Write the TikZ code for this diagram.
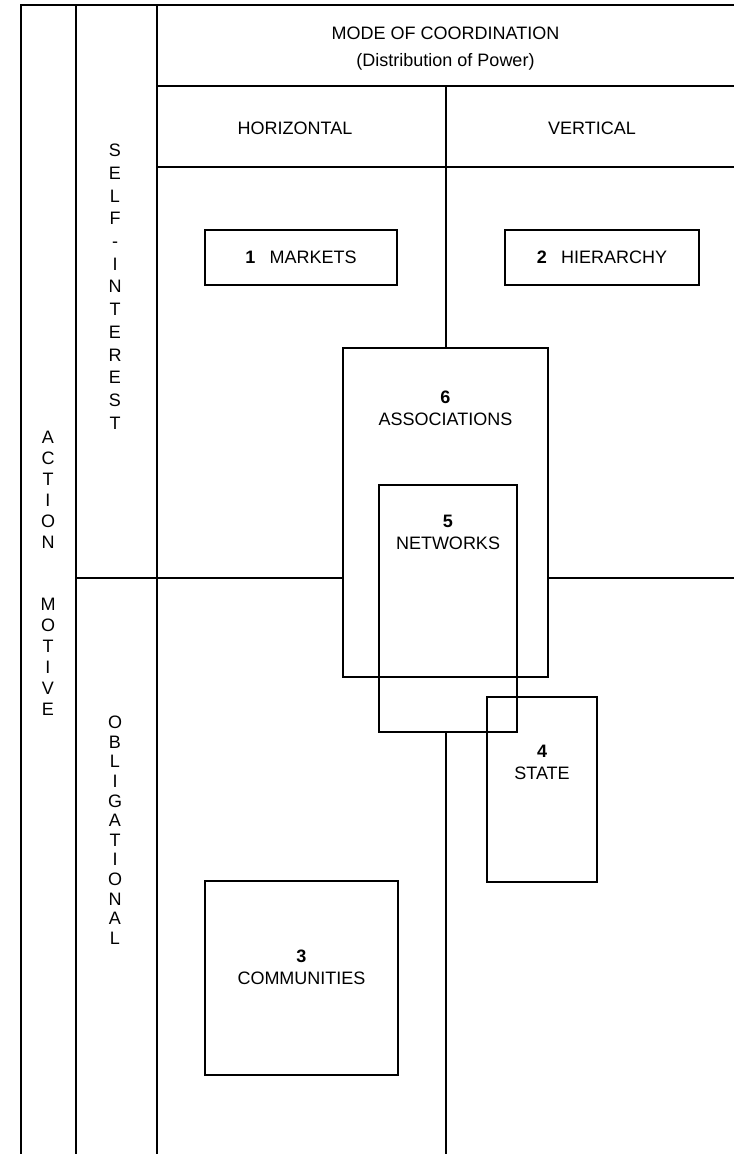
\documentclass[tikz,border=0pt]{standalone}
\usepackage{fontspec}
\setmainfont{Liberation Sans}
\usetikzlibrary{positioning}
\begin{document}
\begin{tikzpicture}[x=1pt,y=-1pt]
    \tikzstyle{grid} = [line width=1.2pt]
    \tikzstyle{txt} = [font=\fontsize{18}{22}\selectfont, align=center, inner sep=0pt]
    \tikzstyle{box} = [txt, rectangle, draw=black, line width=1.2pt]
    \tikzstyle{letters} = [txt, anchor=north]

    \useasboundingbox (0,0) rectangle (734,1154);

    \coordinate (hl) at (76,578);
    \coordinate (hr) at (734,578);
    \coordinate (vt) at (446,86);
    \coordinate (vb) at (446,1154);

    \draw [grid] (21,1154) -- (21,5) -- (734,5);
    \draw [grid] (76,5) -- (76,1154);
    \draw [grid] (157,5) -- (157,1154);
    \draw [grid] (157,86) -- (734,86);
    \draw [grid] (157,167) -- (734,167);

    \node (mode) [txt, font=\fontsize{18}{27}\selectfont] at (445.5,48.5) {MODE OF COORDINATION\\(Distribution of Power)};
    \node (horiz) [txt] at (295,128) {HORIZONTAL};
    \node (vert) [txt] at (592,128) {VERTICAL};

    \node (self) [letters, font=\fontsize{18}{22.7}\selectfont] at (115,144) {S\\E\\L\\F\\-\\I\\N\\T\\E\\R\\E\\S\\T};
    \node (motive) [letters, font=\fontsize{18}{21}\selectfont] at (48,431) {A\\C\\T\\I\\O\\N\\[41pt]M\\O\\T\\I\\V\\E};
    \node (oblig) [letters, font=\fontsize{18}{19.6}\selectfont] at (115,716) {O\\B\\L\\I\\G\\A\\T\\I\\O\\N\\A\\L};

    \node (markets) [box, minimum width=192pt, minimum height=55pt] at (301,257.5) {\textbf{1}\hspace{0.8em}MARKETS};
    \node (hierarchy) [box, minimum width=194pt, minimum height=55pt] at (602,257.5) {\textbf{2}\hspace{0.8em}HIERARCHY};
    \node (assoc) [box, minimum width=205pt, minimum height=329pt] at (445.5,512.5) {};
    \node (networks) [box, minimum width=138pt, minimum height=247pt] at (448,608.5) {};
    \node (state) [box, minimum width=110pt, minimum height=185pt] at (542,789.5) {};
    \node (communities) [box, minimum width=193pt, minimum height=194pt] at (301.5,978) {};

    \node (assoctext) [txt, below=43pt of assoc.north] {\textbf{6}\\ASSOCIATIONS};
    \node (networkstext) [txt, below=31pt of networks.north] {\textbf{5}\\NETWORKS};
    \node (statetext) [txt, below=49pt of state.north] {\textbf{4}\\STATE};
    \node (communitiestext) [txt, below=69pt of communities.north] {\textbf{3}\\COMMUNITIES};

    \draw [grid] (vt) -- (vt |- assoc.north);
    \draw [grid] (networks.south -| vt) -- (vb);
    \draw [grid] (hl) -- (assoc.west |- hl);
    \draw [grid] (assoc.east |- hr) -- (hr);
\end{tikzpicture}
\end{document}
